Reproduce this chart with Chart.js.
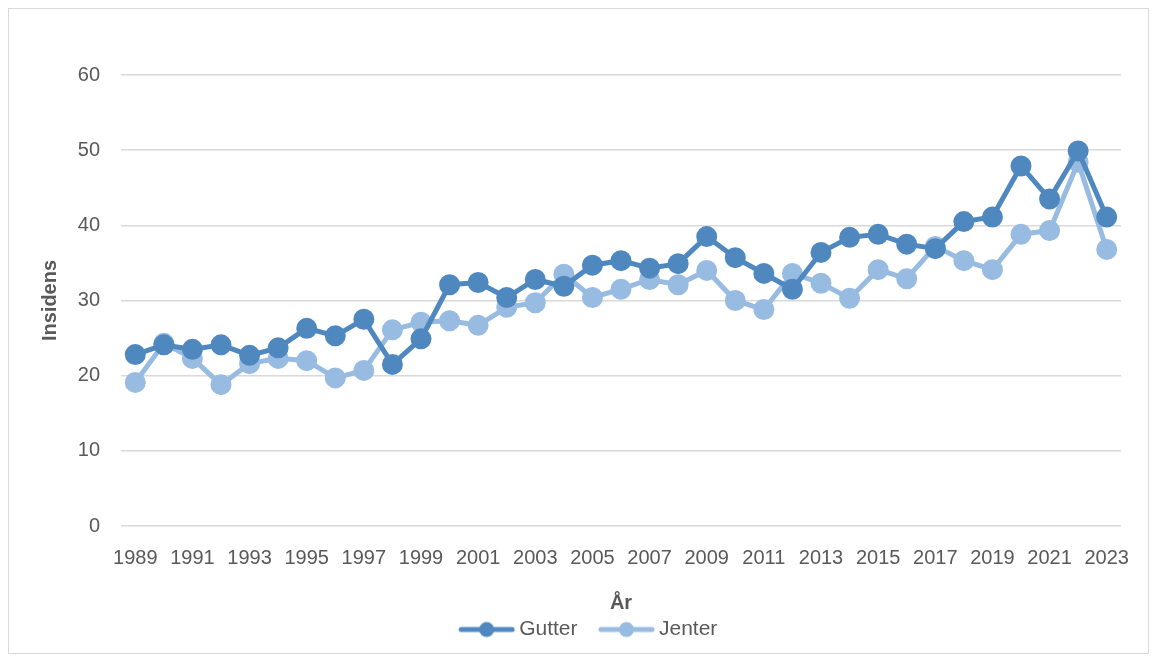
<!DOCTYPE html>
<html>
<head>
<meta charset="utf-8">
<script src="https://cdn.jsdelivr.net/npm/chart.js@4.4.0/dist/chart.umd.min.js"></script>
<style>
  html, body { margin: 0; padding: 0; background: #fff; }
  #wrap { position: relative; width: 1161px; height: 662px; }
  #frame { position: absolute; left: 8px; top: 8px; width: 1141px; height: 646px; border: 1px solid #d9d9d9; box-sizing: border-box; pointer-events: none; }
</style>
</head>
<body>
<div id="wrap">
  <canvas id="chart" width="1161" height="662"></canvas>
  <div id="frame"></div>
</div>
<script>
// Incidence per year, boys vs girls
const years = [];
for (let y = 1989; y <= 2023; y++) years.push(String(y));

const gutter = [22.8, 24.1, 23.5, 24.1, 22.7, 23.7, 26.3, 25.3, 27.5, 21.5,
  24.9, 32.1, 32.4, 30.4, 32.8, 31.9, 34.7, 35.3, 34.3, 34.9,
  38.5, 35.7, 33.6, 31.5, 36.4, 38.4, 38.8, 37.5, 36.9, 40.5,
  41.1, 47.9, 43.5, 49.9, 41.1];

const jenter = [19.1, 24.3, 22.3, 18.8, 21.6, 22.3, 22.0, 19.7, 20.7, 26.1,
  27.1, 27.3, 26.7, 29.1, 29.7, 33.5, 30.4, 31.5, 32.8, 32.1,
  34.0, 30.0, 28.8, 33.6, 32.3, 30.3, 34.1, 32.9, 37.2, 35.3,
  34.1, 38.8, 39.3, 48.4, 36.8];

const DARK = '#4f88bf';
const LIGHT = '#98bbe1';
const TEXT = '#595959';
const FONT = "'Liberation Sans', Arial, sans-serif";

// legend marker: short line with a dot, like the Excel legend
// (blank strip on the left gives the gap between legend items)
function legendIcon(color) {
  const c = document.createElement('canvas');
  c.width = 80; c.height = 18;
  const ctx = c.getContext('2d');
  ctx.strokeStyle = color; ctx.lineWidth = 5; ctx.lineCap = 'round';
  ctx.beginPath(); ctx.moveTo(26, 9); ctx.lineTo(77, 9); ctx.stroke();
  ctx.fillStyle = color;
  ctx.beginPath(); ctx.arc(51.5, 9, 7.5, 0, Math.PI * 2); ctx.fill();
  return c;
}

new Chart(document.getElementById('chart'), {
  type: 'line',
  data: {
    labels: years,
    datasets: [
      { label: 'Gutter', data: gutter, borderColor: DARK, backgroundColor: DARK,
        borderWidth: 5, pointRadius: 8, pointHoverRadius: 8, tension: 0 },
      { label: 'Jenter', data: jenter, borderColor: LIGHT, backgroundColor: LIGHT,
        borderWidth: 5, pointRadius: 8, pointHoverRadius: 8, tension: 0 }
    ]
  },
  options: {
    responsive: false,
    animation: false,
    layout: { padding: { top: 75, right: 40, left: 38, bottom: 12 } },
    plugins: {
      tooltip: { enabled: false },
      legend: {
        position: 'bottom',
        labels: {
          usePointStyle: true,
          pointStyleWidth: 67,
          boxHeight: 18,
          color: TEXT,
          font: { family: FONT, size: 21 },
          padding: 4,
          generateLabels: (chart) => chart.data.datasets.map((ds, i) => ({
            text: ds.label,
            fontColor: TEXT,
            pointStyle: legendIcon(ds.borderColor),
            datasetIndex: i,
            hidden: false,
            lineWidth: 0,
            strokeStyle: 'transparent',
            fillStyle: ds.borderColor
          }))
        }
      }
    },
    scales: {
      x: {
        offset: true,
        grid: { display: false, drawTicks: false },
        border: { display: false },
        ticks: {
          autoSkip: false, maxRotation: 0, padding: 20,
          color: TEXT, font: { family: FONT, size: 20 },
          callback: function (v, i) { return i % 2 === 0 ? this.getLabelForValue(v) : ''; }
        },
        title: { display: true, text: 'År', color: TEXT, font: { family: FONT, size: 20, weight: 'bold' }, padding: { top: 1, bottom: 0 } }
      },
      y: {
        min: 0, max: 60,
        afterFit: (scale) => { scale.width = 83; },
        grid: { color: '#d9d9d9', lineWidth: 1.5, drawTicks: false },
        border: { display: false },
        ticks: { stepSize: 10, padding: 21, color: TEXT, font: { family: FONT, size: 20 } },
        title: { display: true, text: 'Insidens', color: TEXT, font: { family: FONT, size: 20, weight: 'bold' }, padding: { top: 0, bottom: 17 } }
      }
    }
  }
});
</script>
</body>
</html>
